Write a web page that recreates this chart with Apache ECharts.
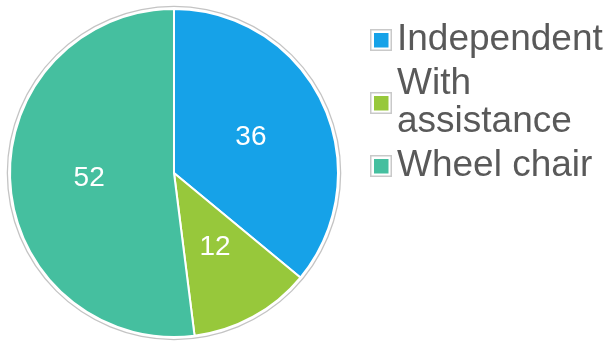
<!DOCTYPE html>
<html>
<head>
<meta charset="utf-8">
<script src="https://cdn.jsdelivr.net/npm/echarts@6/dist/echarts.min.js"></script>
<style>
  html, body { margin: 0; padding: 0; background: #ffffff; }
  #chart { width: 611px; height: 341px; }
</style>
</head>
<body>
<div id="chart"></div>
<script>
// Mobility categories and their counts
var categories = ['Independent', 'With assistance', 'Wheel chair'];
var counts = [36, 12, 52];
var colors = ['#16a2e8', '#97c83b', '#45bf9f'];

// Legend marker: coloured square inside a thin grey frame
function markerIcon(color) {
  var svg = '<svg xmlns="http://www.w3.org/2000/svg" width="22" height="22" viewBox="0 0 22 22">' +
    '<rect x="0.75" y="0.75" width="20.5" height="20.5" fill="#ffffff" stroke="#c9c9c9" stroke-width="1.5"/>' +
    '<rect x="4" y="4" width="14.5" height="14.5" fill="' + color + '"/></svg>';
  return 'image://data:image/svg+xml;charset=utf-8,' + encodeURIComponent(svg);
}

var pieData = categories.map(function (name, i) {
  return { name: name, value: counts[i], itemStyle: { color: colors[i] } };
});

var chart = echarts.init(document.getElementById('chart'), null, { renderer: 'canvas' });
chart.setOption({
  animation: false,
  backgroundColor: '#ffffff',
  legend: {
    orient: 'vertical',
    left: 365,
    top: 16,
    itemWidth: 22,
    itemHeight: 22,
    itemGap: 6,
    selectedMode: false,
    data: categories.map(function (name, i) {
      return { name: name, icon: markerIcon(colors[i]) };
    }),
    textStyle: {
      fontFamily: 'Liberation Sans, Arial, sans-serif',
      fontSize: 37,
      lineHeight: 38,
      color: '#595959',
      width: 214,
      overflow: 'break'
    }
  },
  series: [
    {
      // thin grey rim around the pie
      type: 'pie',
      silent: true,
      center: [174, 173],
      radius: [166, 167.3],
      label: { show: false },
      labelLine: { show: false },
      data: [{ value: 1, itemStyle: { color: '#c4c4c4' } }]
    },
    {
      type: 'pie',
      center: [174, 173],
      radius: [0, 164],
      startAngle: 90,
      clockwise: true,
      silent: true,
      itemStyle: { borderColor: '#ffffff', borderWidth: 2 },
      label: {
        show: true,
        position: 'inside',
        formatter: '{c}',
        color: '#ffffff',
        fontFamily: 'Liberation Sans, Arial, sans-serif',
        fontSize: 28
      },
      labelLine: { show: false },
      data: pieData
    }
  ]
});
</script>
</body>
</html>
